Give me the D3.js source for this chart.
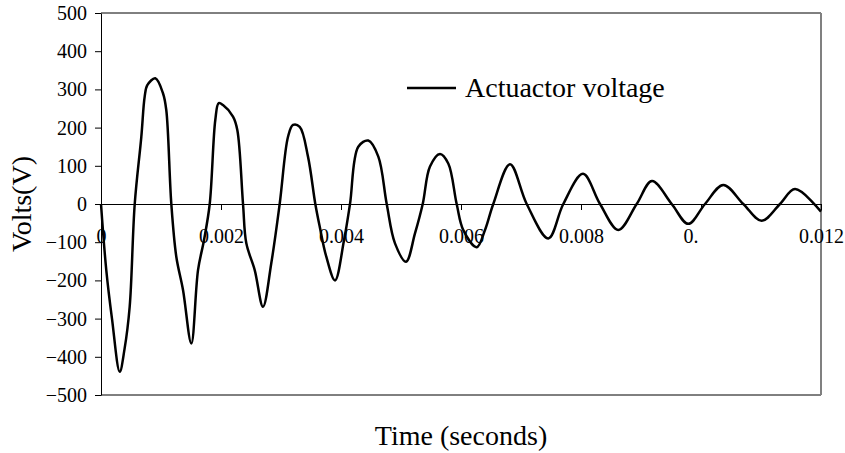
<!DOCTYPE html>
<html>
<head>
<meta charset="utf-8">
<script src="https://cdn.jsdelivr.net/npm/d3@7"></script>
<style>
  body { margin: 0; background: #fff; }
  svg { display: block; }
  svg text { font-family: "Liberation Serif", "Times New Roman", Times, serif; }
</style>
</head>
<body>
<svg id="chart" width="845" height="453"></svg>
<script>
// time in seconds
const times = [
  0, 0.000088, 0.000183, 0.000312, 0.000392, 0.000478, 0.000562, 0.000672, 0.000728, 0.000772,
  0.000905, 0.001033, 0.001088, 0.001172, 0.001255, 0.001367, 0.001505, 0.001617, 0.001717, 0.001812,
  0.001905, 0.001962, 0.002033, 0.0022, 0.002272, 0.002367, 0.002422, 0.002562, 0.0027, 0.002838,
  0.002978, 0.003117, 0.0032, 0.003312, 0.00345, 0.003572, 0.003645, 0.003755, 0.0039,
  0.00405, 0.00415, 0.004288, 0.004455, 0.004622, 0.004762, 0.0049, 0.005083, 0.005233, 0.005362,
  0.005483, 0.00565, 0.005788, 0.005928, 0.006038, 0.006262, 0.0064, 0.006538, 0.006817, 0.007095,
  0.007455, 0.007705, 0.008033, 0.008317, 0.008622, 0.008928, 0.009183, 0.009512, 0.009788, 0.010067,
  0.010372, 0.010705, 0.01101, 0.011317, 0.011567, 0.012
];
// actuator voltage (V)
const volts = [
  0, -173, -300, -439, -380, -269, 0, 176, 281, 311,
  329, 290, 246, 0, -138, -225, -365, -173, -94, 0,
  220, 264, 259, 229, 194, 0, -103, -173, -269, -155,
  0, 176, 207, 202, 124, 0, -59, -138, -200,
  -95, 0, 150, 166, 124, 0, -103, -151, -77, 0,
  98, 131, 106, 0, -68, -113, -68, 0, 104, 0,
  -90, 0, 79, 0, -68, 0, 60, 0, -52, 0,
  50, 0, -44, 0, 39, -20
];

const yTicks = [-500, -400, -300, -200, -100, 0, 100, 200, 300, 400, 500];
const xTicks = [0, 0.002, 0.004, 0.006, 0.008, 0.01, 0.012];
const xTickLabels = ["0", "0.002", "0.004", "0.006", "0.008", "0.", "0.012"];
const seriesName = "Actuactor voltage";

const data = times.map((t, i) => ({ t: t, v: volts[i] }));

const serif = "'Liberation Serif', 'Times New Roman', Times, serif";
const plotLeft = 101, plotRight = 821, plotTop = 13, plotBottom = 395;
const x = d3.scaleLinear().domain([0, 0.012]).range([plotLeft, plotRight]);
const y = d3.scaleLinear().domain([-500, 500]).range([plotBottom, plotTop]);

const svg = d3.select("#chart").attr("font-family", serif);

// plot area frame
svg.append("line")
  .attr("x1", plotLeft).attr("x2", plotRight).attr("y1", plotTop).attr("y2", plotTop)
  .attr("stroke", "#000").attr("stroke-width", 1);
svg.append("line")
  .attr("x1", plotLeft).attr("x2", plotRight).attr("y1", plotBottom).attr("y2", plotBottom)
  .attr("stroke", "#000").attr("stroke-width", 1);
svg.append("line")
  .attr("x1", plotRight).attr("x2", plotRight).attr("y1", plotTop).attr("y2", plotBottom)
  .attr("stroke", "#808080").attr("stroke-width", 2);

// y axis
const yAxis = svg.append("g")
  .attr("transform", `translate(${plotLeft},0)`)
  .call(d3.axisLeft(y).tickValues(yTicks).tickSize(6).tickSizeOuter(0).tickPadding(8));
yAxis.attr("font-family", serif).attr("font-size", 20);
yAxis.select(".domain").attr("stroke", "#000");
yAxis.selectAll(".tick line").attr("stroke", "#000");
yAxis.selectAll(".tick text").attr("fill", "#000");

// x axis on zero line
const xAxis = svg.append("g")
  .attr("transform", `translate(0,${y(0)})`)
  .call(d3.axisBottom(x).tickValues(xTicks).tickSize(6).tickSizeOuter(0)
    .tickFormat((d, i) => xTickLabels[i]));
xAxis.attr("font-family", serif).attr("font-size", 20);
xAxis.select(".domain").attr("stroke", "#000");
xAxis.selectAll(".tick line").attr("stroke", "#000");
xAxis.selectAll(".tick")
  .filter(d => d === 0)
  .select("line").remove();
xAxis.selectAll(".tick text")
  .attr("fill", "#000")
  .attr("y", 39)
  .attr("dy", 0)
  .filter((d, i) => xTickLabels[i] === "0.")
  .attr("text-anchor", "end")
  .attr("dx", -3);

// series
const line = d3.line()
  .x(d => x(d.t))
  .y(d => y(d.v))
  .curve(d3.curveCatmullRom.alpha(0.5));

svg.append("path")
  .datum(data)
  .attr("fill", "none")
  .attr("stroke", "#000")
  .attr("stroke-width", 2.5)
  .attr("stroke-linejoin", "round")
  .attr("d", line);

// legend
const legend = svg.append("g").attr("transform", "translate(407,88)");
legend.append("line")
  .attr("x1", 0).attr("x2", 49).attr("y1", 0).attr("y2", 0)
  .attr("stroke", "#000").attr("stroke-width", 2.5);
legend.append("text")
  .attr("x", 58).attr("y", 9)
  .attr("font-size", 28)
  .text(seriesName);

// axis titles
svg.append("text")
  .attr("transform", "translate(31,204) rotate(-90)")
  .attr("text-anchor", "middle")
  .attr("font-size", 28)
  .text("Volts(V)");
svg.append("text")
  .attr("x", 461).attr("y", 445)
  .attr("text-anchor", "middle")
  .attr("font-size", 28)
  .text("Time (seconds)");
</script>
</body>
</html>
